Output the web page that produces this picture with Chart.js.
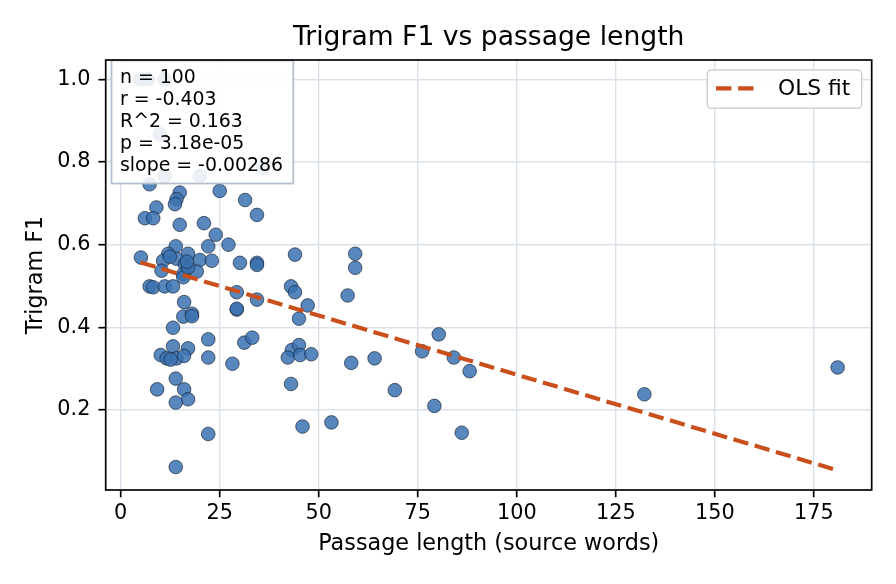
<!DOCTYPE html>
<html><head><meta charset="utf-8">
<script src="https://cdn.jsdelivr.net/npm/chart.js@4.4.0/dist/chart.umd.min.js"></script>
<style>html,body{margin:0;padding:0;background:#fff}#wrap{width:896px;height:584px}</style>
</head><body><div id="wrap"><canvas id="c" width="896" height="584"></canvas></div>
<script>
// ---- data ----
const lengthWords = [5.0,6.9,11.1,9.9,11.1,20.0,36.0,7.3,14.9,14.1,13.7,25.0,31.4,34.4,9.0,6.1,8.2,14.9,21.0,24.0,27.2,22.1,13.9,44.0,5.1,12.0,10.7,17.0,14.1,16.2,20.0,23.0,30.1,34.4,34.4,10.3,15.8,15.8,19.2,17.0,7.3,8.2,11.1,13.2,29.3,34.4,43.0,44.0,16.0,29.3,29.3,15.8,18.0,18.0,45.0,13.2,22.1,31.2,33.2,13.2,17.0,10.1,11.6,14.1,16.0,22.1,28.2,43.2,45.0,42.2,45.3,13.9,9.2,16.0,17.0,13.9,43.0,22.1,13.9,45.9,59.2,59.2,57.3,47.2,80.3,48.1,58.2,64.1,76.1,84.1,88.1,69.2,79.2,53.2,86.1,132.2,181.0,12.4,16.7,12.6];
const trigramF1 = [1.0,1.0,1.0,0.867,0.766,0.766,0.785,0.746,0.726,0.71,0.698,0.73,0.708,0.672,0.69,0.664,0.664,0.648,0.652,0.624,0.60,0.596,0.596,0.576,0.569,0.578,0.561,0.578,0.566,0.553,0.563,0.561,0.556,0.556,0.551,0.537,0.529,0.521,0.535,0.545,0.499,0.497,0.499,0.499,0.485,0.467,0.499,0.485,0.461,0.443,0.445,0.426,0.433,0.427,0.421,0.399,0.371,0.363,0.375,0.354,0.349,0.333,0.325,0.325,0.331,0.327,0.312,0.345,0.357,0.327,0.333,0.276,0.25,0.25,0.226,0.218,0.263,0.142,0.062,0.16,0.578,0.544,0.477,0.453,0.383,0.335,0.314,0.325,0.342,0.327,0.294,0.248,0.21,0.17,0.145,0.238,0.303,0.571,0.559,0.322];
const fitX = [5, 181];
const fitY = [0.557, 0.054];
const xTicks = [0, 25, 50, 75, 100, 125, 150, 175];
const yTicks = [0.2, 0.4, 0.6, 0.8, 1.0];
const statsLines = ['n = 100', 'r = -0.403', 'R^2 = 0.163', 'p = 3.18e-05', 'slope = -0.00286'];
const titleText = 'Trigram F1 vs passage length';
const xLabel = 'Passage length (source words)';
const yLabel = 'Trigram F1';
const legendLabel = 'OLS fit';

const FONT = 'DejaVu Sans';
const FIT_COLOR = '#c9501c';
const DASH = [15.4, 6.7];

const points = lengthWords.map((x, i) => ({x: x, y: trigramF1[i]}));
const fitPts = fitX.map((x, i) => ({x: x, y: fitY[i]}));

const decor = {
  id: 'decor',
  afterDatasetsDraw(chart) {
    const ctx = chart.ctx, a = chart.chartArea;
    ctx.save();
    // stats box
    ctx.fillStyle = 'rgba(255,255,255,0.88)';
    ctx.fillRect(111.5, 60.5, 181.8, 123);
    ctx.strokeStyle = '#b4bfcf';
    ctx.lineWidth = 1.8;
    ctx.strokeRect(111.5, 60.5, 181.8, 123);
    ctx.fillStyle = '#000';
    ctx.font = '18.9px "' + FONT + '"';
    ctx.textAlign = 'left';
    ctx.textBaseline = 'alphabetic';
    statsLines.forEach((t, i) => ctx.fillText(t, 120, 83.3 + i * 21.8));
    // legend
    const lx = 707.3, ly = 70, lw = 154.4, lh = 38.3, r = 4;
    ctx.beginPath();
    ctx.roundRect(lx, ly, lw, lh, r);
    ctx.fillStyle = 'rgba(255,255,255,0.85)';
    ctx.fill();
    ctx.strokeStyle = '#cfcfcf';
    ctx.lineWidth = 1.5;
    ctx.stroke();
    ctx.beginPath();
    ctx.setLineDash(DASH);
    ctx.lineCap = 'butt';
    ctx.strokeStyle = FIT_COLOR;
    ctx.lineWidth = 4.17;
    ctx.moveTo(716, 88.3); ctx.lineTo(753.5, 88.3);
    ctx.stroke();
    ctx.setLineDash([]);
    ctx.fillStyle = '#000';
    ctx.font = '21.8px "' + FONT + '"';
    ctx.textBaseline = 'middle';
    ctx.fillText(legendLabel, 778, 89);
    // frame
    ctx.strokeStyle = '#000';
    ctx.lineWidth = 1.67;
    ctx.strokeRect(a.left, a.top, a.right - a.left, a.bottom - a.top);
    // title
    ctx.font = '26.6px "' + FONT + '"';
    ctx.textAlign = 'center';
    ctx.textBaseline = 'middle';
    ctx.fillText(titleText, (a.left + a.right) / 2, 38);
    ctx.restore();
  }
};

new Chart(document.getElementById('c'), {
  type: 'scatter',
  data: {
    datasets: [
      {
        type: 'line', label: legendLabel, data: fitPts, order: 0,
        borderColor: FIT_COLOR, borderWidth: 4.17, borderDash: DASH, borderCapStyle: 'butt',
        pointRadius: 0, fill: false, tension: 0
      },
      {
        label: 'points', data: points, order: 1,
        backgroundColor: 'rgba(58,114,176,0.85)', borderColor: 'rgba(25,35,55,0.85)',
        borderWidth: 0.8, pointRadius: 6.8, pointHoverRadius: 6.8
      }
    ]
  },
  options: {
    responsive: false, animation: false, devicePixelRatio: 1,
    layout: {padding: {left: 0, right: 24.3, top: 60, bottom: 0}},
    plugins: {legend: {display: false}, title: {display: false}, tooltip: {enabled: false}},
    scales: {
      x: {
        type: 'linear', min: -3.79, max: 189.6,
        afterBuildTicks: s => { s.ticks = xTicks.map(v => ({value: v})); },
        afterFit: s => { s.height = 94; },
        ticks: {color: '#000', font: {family: FONT, size: 20.8}, padding: 4.2, callback: v => String(v), maxRotation: 0},
        grid: {color: '#dbe1ea', lineWidth: 1.4, tickColor: '#000', tickLength: 7.3, tickWidth: 1.67},
        border: {display: false},
        title: {display: true, text: xLabel, color: '#000', font: {family: FONT, size: 22.3}, padding: {top: 0, bottom: 26.4}}
      },
      y: {
        type: 'linear', min: 0.0065, max: 1.0467,
        afterBuildTicks: s => { s.ticks = yTicks.map(v => ({value: v})); },
        afterFit: s => { s.width = 105.7; },
        ticks: {color: '#000', font: {family: FONT, size: 20.8}, padding: 8, callback: v => Number(v).toFixed(1)},
        grid: {color: '#dbe1ea', lineWidth: 1.4, tickColor: '#000', tickLength: 7.3, tickWidth: 1.67},
        border: {display: false},
        title: {display: true, text: yLabel, color: '#000', font: {family: FONT, size: 22.3}, padding: {top: 22.6, bottom: 0}}
      }
    }
  },
  plugins: [decor]
});
</script></body></html>
